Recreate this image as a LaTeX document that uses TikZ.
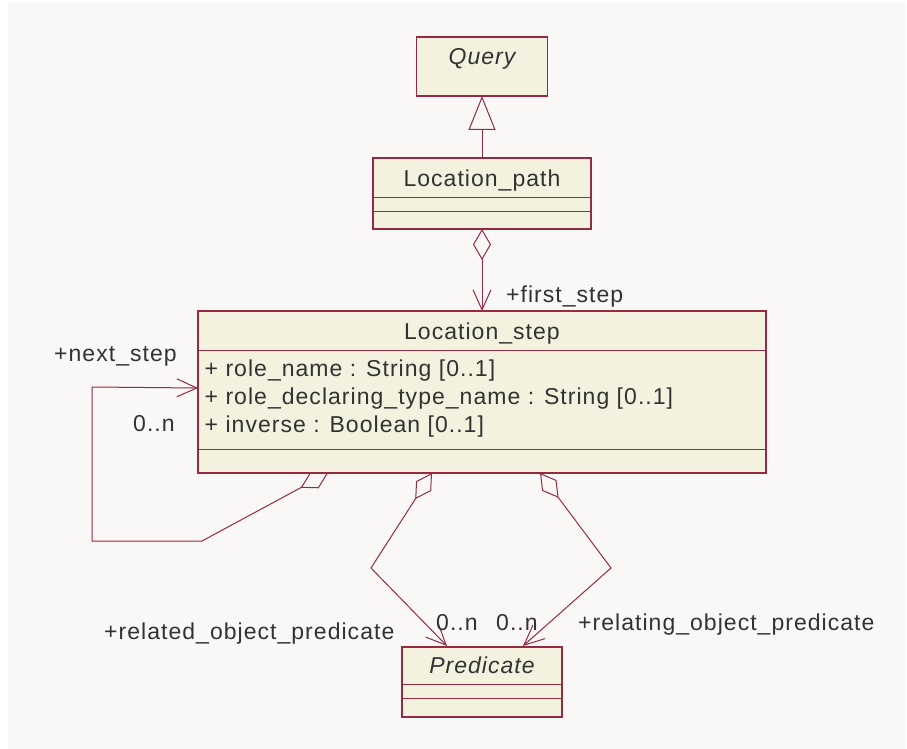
\documentclass[tikz,border=0pt]{standalone}
\usepackage{fontspec}
\setmainfont{Liberation Sans}[LetterSpace=4.5]
\usepackage{tikz}
\usetikzlibrary{arrows.meta, positioning, calc}

\definecolor{umlbg}{RGB}{249,248,246}
\definecolor{umlfill}{RGB}{242,242,222}
\definecolor{umlline}{RGB}{150,42,66}
\definecolor{umltext}{RGB}{50,50,50}

\begin{document}
\begin{tikzpicture}[
    x=1pt, y=-1pt,
    font=\fontsize{23}{27}\selectfont,
    classbox/.style={draw=umlline, fill=umlfill, line width=1.1pt,
                     inner sep=0pt, outer sep=0pt},
    compline/.style={draw=umlline, line width=0.9pt},
    cname/.style={text=umltext, inner sep=0pt, anchor=base},
    lbl/.style={text=umltext, inner sep=0pt, anchor=base west},
    link/.style={draw=umlline, line width=1pt},
    agg/.style={{Diamond[open,length=31pt,width=18pt]}-{Straight Barb[length=20pt,width=18pt]}}
  ]
  % page and background
  \useasboundingbox (0,0) rectangle (907,749);
  \fill[white] (0,0) rectangle (907,749);
  \fill[umlbg] (8,3) rectangle (906,749);

  % classes
  \node[classbox, minimum width=131pt, minimum height=59pt, anchor=north]
    (query) at (482,37) {};
  \node[classbox, minimum width=218pt, minimum height=71pt, below=62pt of query]
    (lpath) {};
  \node[classbox, minimum width=568pt, minimum height=162pt, below=82pt of lpath]
    (lstep) {};
  \node[classbox, minimum width=160pt, minimum height=70pt, below=174pt of lstep]
    (pred) {};

  % compartments
  \draw[compline] ($(lpath.north west)+(0,39)$) -- ($(lpath.north east)+(0,39)$);
  \draw[compline] ($(lpath.north west)+(0,53)$) -- ($(lpath.north east)+(0,53)$);
  \draw[compline] ($(lstep.north west)+(0,39)$) -- ($(lstep.north east)+(0,39)$);
  \draw[compline] ($(lstep.north west)+(0,138)$) -- ($(lstep.north east)+(0,138)$);
  \draw[compline] ($(pred.north west)+(0,37)$) -- ($(pred.north east)+(0,37)$);
  \draw[compline] ($(pred.north west)+(0,51)$) -- ($(pred.north east)+(0,51)$);

  % class names and attributes
  \node[cname] (queryname) at ($(query.north)+(0,28)$) {\itshape Query};
  \node[cname] (lpathname) at ($(lpath.north)+(0,28)$) {Location\_path};
  \node[cname] (lstepname) at ($(lstep.north)+(0,28)$) {Location\_step};
  \node[cname] (predname) at ($(pred.north)+(0,26)$) {\itshape Predicate};
  \node[lbl] (attrrole) at ($(lstep.north west)+(6.5,65)$)
    {+ role\_name : String [0..1]};
  \node[lbl] (attrdecl) at ($(lstep.north west)+(6.5,93)$)
    {+ role\_declaring\_type\_name : String [0..1]};
  \node[lbl] (attrinv) at ($(lstep.north west)+(6.5,121)$)
    {+ inverse : Boolean [0..1]};

  % generalization and aggregations
  \draw[link, -{Triangle[open,length=34pt,width=27pt]}] (lpath.north) -- (query.south);
  \draw[link, agg] (lpath.south) -- (lstep.north);

  \coordinate (nsdiag) at (202,541);
  \coordinate (nscorner) at (92,541);
  \coordinate (nstop) at (92,387);
  \draw[link, agg] ($(lstep.south west)+(130,0)$) -- (nsdiag) -- (nscorner)
    -- (nstop) -- ($(lstep.north west)+(0,77)$);

  \coordinate (relbend) at (371,568);
  \coordinate (relingbend) at (611,568);
  \draw[link, agg] ($(lstep.south west)+(234,0)$) -- (relbend)
    -- ($(pred.north west)+(45,-1)$);
  \draw[link, agg] ($(lstep.south west)+(342,0)$) -- (relingbend)
    -- ($(pred.north west)+(121,-1)$);

  % role names and multiplicities
  \node[lbl] (firstlbl) at (506,302) {+first\_step};
  \node[lbl] (nextlbl) at (54,361) {+next\_step};
  \node[lbl] (nextmult) at (133,431) {0..n};
  \node[lbl] (relmult) at (436,630) {0..n};
  \node[lbl] (relingmult) at (496,630) {0..n};
  \node[lbl] (relinglbl) at (578,630) {+relating\_object\_predicate};
  \node[lbl] (rellbl) at (104,639) {+related\_object\_predicate};
\end{tikzpicture}
\end{document}
